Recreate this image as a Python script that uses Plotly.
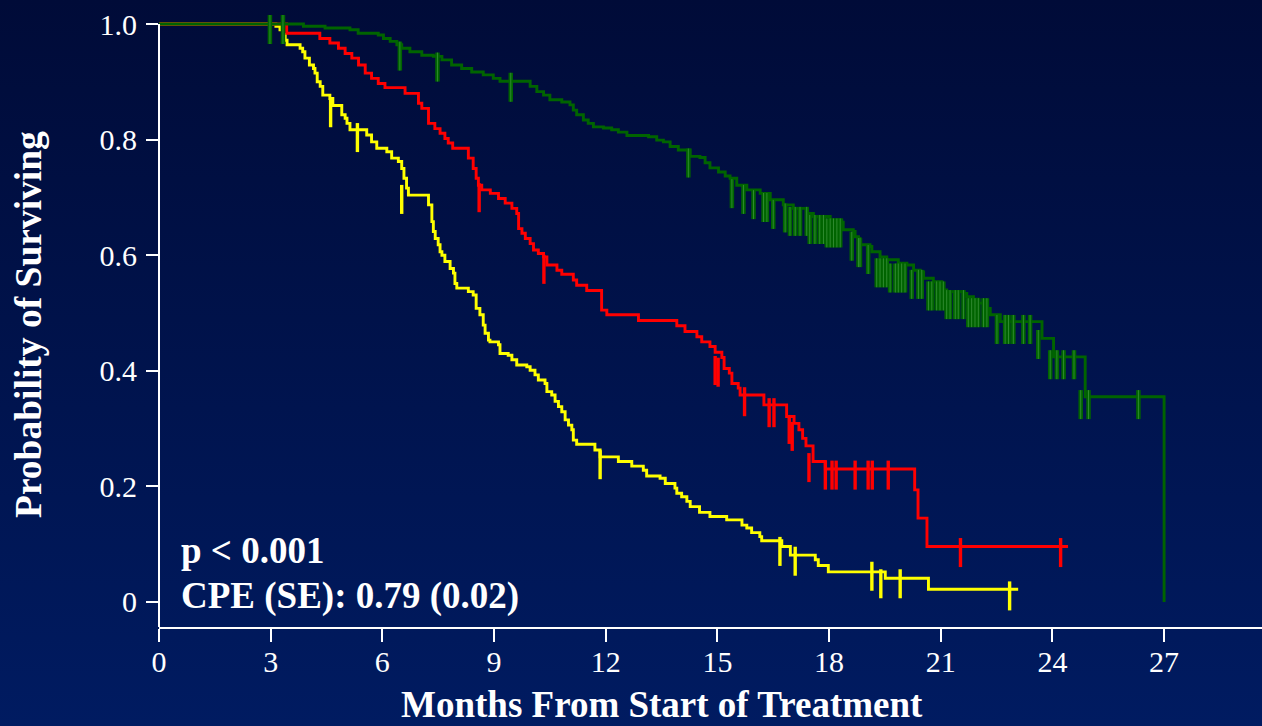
import base64
import plotly.graph_objects as go

# Kaplan-Meier step curves: month of each step and survival after it
yellow_t = [0, 3.14, 3.25, 3.33, 3.39, 3.44, 3.79, 3.86, 3.92, 4.04,
            4.15, 4.19, 4.25, 4.33, 4.40, 4.59, 4.67, 4.91, 5.00, 5.05,
            5.13, 5.58, 5.71, 5.85, 6.12, 6.25, 6.43, 6.52, 6.58, 6.65,
            6.70, 7.24, 7.33, 7.37, 7.42, 7.50, 7.55, 7.60, 7.68, 7.82,
            7.91, 7.95, 8.00, 8.31, 8.44, 8.52, 8.62, 8.71, 8.76, 8.85,
            8.89, 9.12, 9.16, 9.38, 9.48, 9.61, 9.88, 9.97, 10.10, 10.19,
            10.37, 10.42, 10.55, 10.64, 10.73, 10.82, 10.91, 11.00, 11.09, 11.13,
            11.22, 11.71, 11.85, 12.34, 12.70, 13.01, 13.10, 13.46, 13.60, 13.86,
            13.91, 14.04, 14.18, 14.27, 14.52, 14.80, 15.25, 15.66, 15.79, 15.92,
            16.14, 16.19, 16.73, 16.96, 17.63, 17.71, 17.98, 19.51, 20.67, 23.08]
yellow_s = [1.0, 0.996, 0.990, 0.982, 0.972, 0.964, 0.958, 0.952, 0.941, 0.929,
            0.923, 0.915, 0.900, 0.892, 0.877, 0.871, 0.859, 0.843, 0.837, 0.828,
            0.817, 0.808, 0.796, 0.785, 0.779, 0.768, 0.762, 0.750, 0.733, 0.716,
            0.704, 0.687, 0.658, 0.641, 0.629, 0.618, 0.606, 0.600, 0.589, 0.577,
            0.569, 0.551, 0.543, 0.537, 0.531, 0.508, 0.497, 0.479, 0.465, 0.453,
            0.450, 0.445, 0.430, 0.427, 0.419, 0.410, 0.407, 0.401, 0.393, 0.384,
            0.378, 0.364, 0.358, 0.347, 0.338, 0.329, 0.315, 0.306, 0.298, 0.280,
            0.273, 0.263, 0.251, 0.243, 0.235, 0.228, 0.218, 0.214, 0.205, 0.197,
            0.188, 0.182, 0.174, 0.165, 0.155, 0.148, 0.142, 0.133, 0.128, 0.120,
            0.113, 0.106, 0.096, 0.081, 0.073, 0.063, 0.052, 0.041, 0.022, 0.022]

red_t = [0, 3.43, 4.32, 4.59, 4.82, 5.00, 5.18, 5.36, 5.54, 5.71,
         5.89, 6.07, 6.61, 6.97, 7.06, 7.24, 7.41, 7.55, 7.68, 7.77,
         7.89, 8.31, 8.44, 8.52, 8.58, 8.67, 8.90, 9.12, 9.30, 9.48,
         9.61, 9.66, 9.75, 9.84, 9.97, 10.06, 10.19, 10.33, 10.42, 10.69,
         10.82, 11.13, 11.22, 11.49, 11.89, 12.03, 12.88, 13.91, 14.13, 14.45,
         14.58, 14.80, 14.94, 15.12, 15.18, 15.32, 15.39, 15.56, 15.61, 16.25,
         16.86, 17.06, 17.19, 17.29, 17.38, 17.57, 17.90, 20.30, 20.39, 20.63,
         24.42]
red_s = [1.0, 0.984, 0.975, 0.967, 0.958, 0.949, 0.941, 0.929, 0.915, 0.906,
         0.897, 0.890, 0.880, 0.863, 0.854, 0.828, 0.819, 0.811, 0.802, 0.794,
         0.785, 0.768, 0.750, 0.733, 0.721, 0.713, 0.707, 0.698, 0.690, 0.681,
         0.672, 0.646, 0.638, 0.629, 0.620, 0.609, 0.603, 0.597, 0.583, 0.574,
         0.567, 0.557, 0.548, 0.539, 0.505, 0.497, 0.487, 0.478, 0.468, 0.459,
         0.450, 0.442, 0.432, 0.423, 0.404, 0.396, 0.378, 0.370, 0.358, 0.341,
         0.321, 0.309, 0.298, 0.283, 0.270, 0.243, 0.230, 0.194, 0.145, 0.096,
         0.096]

green_t = [0, 3.88, 4.46, 5.13, 5.35, 5.89, 6.03, 6.21, 6.39, 6.52,
           6.74, 7.06, 7.37, 7.60, 7.86, 8.13, 8.40, 8.71, 8.98, 9.16,
           9.97, 10.15, 10.33, 10.50, 10.82, 11.04, 11.13, 11.22, 11.40, 11.53,
           11.67, 11.94, 12.16, 12.34, 12.57, 13.15, 13.37, 13.55, 13.73, 13.95,
           14.27, 14.53, 14.67, 14.80, 15.03, 15.21, 15.34, 15.52, 15.79, 16.15,
           16.42, 16.77, 17.04, 17.40, 17.58, 18.03, 18.34, 18.38, 18.65, 18.70,
           18.79, 18.83, 19.10, 19.15, 19.37, 19.55, 19.86, 20.09, 20.27, 20.45,
           20.54, 20.80, 21.03, 21.07, 21.16, 21.61, 21.70, 21.88, 22.01, 22.15,
           22.33, 22.60, 23.72, 24.03, 24.88, 27.00]
green_s = [1.0, 0.996, 0.993, 0.990, 0.984, 0.981, 0.975, 0.970, 0.964, 0.958,
           0.952, 0.946, 0.944, 0.938, 0.929, 0.923, 0.917, 0.912, 0.906, 0.901,
           0.892, 0.883, 0.877, 0.869, 0.865, 0.860, 0.851, 0.843, 0.834, 0.828,
           0.822, 0.820, 0.817, 0.813, 0.807, 0.805, 0.799, 0.796, 0.788, 0.782,
           0.771, 0.769, 0.760, 0.751, 0.744, 0.737, 0.733, 0.721, 0.713, 0.707,
           0.696, 0.687, 0.681, 0.672, 0.667, 0.661, 0.657, 0.644, 0.641, 0.632,
           0.629, 0.618, 0.615, 0.606, 0.597, 0.592, 0.586, 0.583, 0.574, 0.571,
           0.560, 0.554, 0.548, 0.540, 0.537, 0.534, 0.528, 0.524, 0.517, 0.508,
           0.497, 0.485, 0.456, 0.424, 0.355, 0.0]

# Censored observations (month, survival level of the mark)
yellow_cens_t = [4.61, 5.33, 6.52, 11.85, 16.68, 17.09, 19.15, 19.39, 19.91, 22.85]
yellow_cens_s = [0.856, 0.813, 0.706, 0.247, 0.097, 0.080, 0.054, 0.041, 0.041, 0.020]

red_cens_t = [8.60, 10.34, 14.94, 15.02, 15.73, 16.39, 16.52, 16.93, 17.01, 17.46,
              17.90, 18.08, 18.19, 18.70, 19.05, 19.16, 19.59, 21.53, 24.22]
red_cens_s = [0.709, 0.585, 0.410, 0.407, 0.356, 0.337, 0.337, 0.308, 0.296, 0.242,
              0.229, 0.229, 0.229, 0.229, 0.229, 0.229, 0.229, 0.095, 0.095]

green_cens_t = [2.98, 3.33, 6.47, 7.48, 9.45, 14.22, 15.39, 15.70, 15.97, 16.24,
                16.33, 16.50, 16.82, 16.95, 17.09, 17.22, 17.40, 17.48, 17.62, 17.75,
                17.85, 17.94, 18.03, 18.12, 18.21, 18.30, 18.61, 18.79, 18.83, 19.05,
                19.28, 19.37, 19.46, 19.55, 19.64, 19.78, 19.86, 19.95, 20.04, 20.22,
                20.40, 20.49, 20.67, 20.76, 20.89, 20.98, 21.07, 21.16, 21.25, 21.39,
                21.47, 21.61, 21.74, 21.83, 21.92, 22.01, 22.15, 22.24, 22.51, 22.73,
                22.82, 22.95, 23.22, 23.40, 23.62, 23.94, 24.12, 24.30, 24.58, 24.76,
                24.97, 26.31]
green_cens_s = [1.0, 1.0, 0.954, 0.935, 0.900, 0.769, 0.716, 0.706, 0.697, 0.692,
                0.692, 0.680, 0.674, 0.668, 0.668, 0.668, 0.668, 0.654, 0.654, 0.654,
                0.654, 0.648, 0.648, 0.648, 0.648, 0.648, 0.625, 0.614, 0.614, 0.602,
                0.579, 0.579, 0.579, 0.579, 0.570, 0.570, 0.570, 0.570, 0.570, 0.559,
                0.559, 0.559, 0.539, 0.539, 0.539, 0.539, 0.539, 0.524, 0.524, 0.524,
                0.524, 0.524, 0.510, 0.510, 0.510, 0.510, 0.510, 0.510, 0.481, 0.481,
                0.481, 0.481, 0.481, 0.481, 0.455, 0.420, 0.420, 0.420, 0.420, 0.351,
                0.351, 0.351]

x_ticks = [0, 3, 6, 9, 12, 15, 18, 21, 24, 27]
y_ticks = [0, 0.2, 0.4, 0.6, 0.8, 1.0]
y_tick_text = ["0", "0.2", "0.4", "0.6", "0.8", "1.0"]

for a, b in [(yellow_t, yellow_s), (red_t, red_s), (green_t, green_s),
             (yellow_cens_t, yellow_cens_s), (red_cens_t, red_cens_s),
             (green_cens_t, green_cens_s)]:
    if len(a) != len(b):
        raise ValueError("length mismatch")

YELLOW = "#ffff00"
RED = "#ff0000"
GREEN = "#006400"
SERIF = "Liberation Serif, Times New Roman, serif"

X_MAX = 29.63
Y_MIN, Y_MAX = -0.0433, 1.0173
TICK_UP, TICK_DOWN = 0.0156, 0.0346   # censor mark extent above/below its level


def censor_segments(ts, ss):
    xs, ys = [], []
    for t, s in zip(ts, ss):
        xs += [t, t, None]
        ys += [s + TICK_UP, s - TICK_DOWN, None]
    return xs, ys


fig = go.Figure()

for t, s, ct, cs, color, tick_w in [
    (yellow_t, yellow_s, yellow_cens_t, yellow_cens_s, YELLOW, 3.4),
    (red_t, red_s, red_cens_t, red_cens_s, RED, 3.4),
    (green_t, green_s, green_cens_t, green_cens_s, GREEN, 4.5),
]:
    fig.add_trace(go.Scatter(x=t, y=s, mode="lines",
                             line=dict(color=color, width=2.9, shape="hv"),
                             hoverinfo="skip", showlegend=False))
    cx, cy = censor_segments(ct, cs)
    fig.add_trace(go.Scatter(x=cx, y=cy, mode="lines",
                             line=dict(color=color, width=tick_w),
                             hoverinfo="skip", showlegend=False))
    if color == GREEN:
        fig.add_trace(go.Scatter(x=cx, y=cy, mode="lines",
                                 line=dict(color="#2f8a2f", width=1),
                                 hoverinfo="skip", showlegend=False))

# vertical gradient backdrop
svg = ('<svg xmlns="http://www.w3.org/2000/svg" width="100" height="100" '
       'preserveAspectRatio="none"><defs><linearGradient id="g" x1="0" y1="0" '
       'x2="0" y2="1"><stop offset="0" stop-color="rgb(0,11,56)"/>'
       '<stop offset="1" stop-color="rgb(0,27,97)"/></linearGradient></defs>'
       '<rect width="100" height="100" fill="url(#g)"/></svg>')
svg_uri = "data:image/svg+xml;base64," + base64.b64encode(svg.encode()).decode()

W, H = 1262, 726
L, R, T, B = 159, 0, 14, 99
pw, ph = W - L - R, H - T - B

fig.update_layout(
    width=W, height=H, autosize=False,
    margin=dict(l=L, r=R, t=T, b=B, pad=0),
    paper_bgcolor="rgb(0,19,76)",
    plot_bgcolor="rgba(0,0,0,0)",
    images=[dict(source=svg_uri, xref="paper", yref="paper",
                 x=-L / pw, y=(ph + T) / ph, sizex=W / pw, sizey=H / ph,
                 xanchor="left", yanchor="top", sizing="stretch", layer="below")],
    xaxis=dict(range=[0, X_MAX], tickmode="array", tickvals=x_ticks,
               ticks="outside", ticklen=13, tickwidth=2, tickcolor="white",
               showline=True, linecolor="white", linewidth=2,
               showgrid=False, zeroline=False,
               tickfont=dict(family=SERIF, size=30, color="white"),
               ticklabelstandoff=-6),
    yaxis=dict(range=[Y_MIN, Y_MAX], tickmode="array", tickvals=y_ticks,
               ticktext=y_tick_text,
               ticks="outside", ticklen=12, tickwidth=2, tickcolor="white",
               showline=False, showgrid=False, zeroline=False,
               tickfont=dict(family=SERIF, size=30, color="white"),
               ticklabelstandoff=3),
    shapes=[dict(type="line", xref="paper", yref="y", x0=0, x1=0,
                 y0=Y_MIN, y1=1.0, line=dict(color="white", width=2))],
    annotations=[
        dict(text="Months From Start of Treatment", xref="paper", yref="paper",
             x=(662 - L) / pw, y=(H - B - 704) / ph, xanchor="center",
             yanchor="middle", showarrow=False,
             font=dict(family=SERIF, size=37, color="white", weight="bold")),
        dict(text="Probability of Surviving", xref="paper", yref="paper",
             x=(28 - L) / pw, y=(H - B - 325) / ph, xanchor="center",
             yanchor="middle", textangle=-90, showarrow=False,
             font=dict(family=SERIF, size=37.5, color="white", weight="bold")),
        dict(text="p < 0.001", xref="paper", yref="paper",
             x=(179 - L) / pw, y=(H - B - 550) / ph, xanchor="left",
             yanchor="middle", showarrow=False,
             font=dict(family=SERIF, size=37, color="white", weight="bold")),
        dict(text="CPE (SE): 0.79 (0.02)", xref="paper", yref="paper",
             x=(179 - L) / pw, y=(H - B - 596) / ph, xanchor="left",
             yanchor="middle", showarrow=False,
             font=dict(family=SERIF, size=37, color="white", weight="bold")),
    ],
)

fig.write_html("out.html")
